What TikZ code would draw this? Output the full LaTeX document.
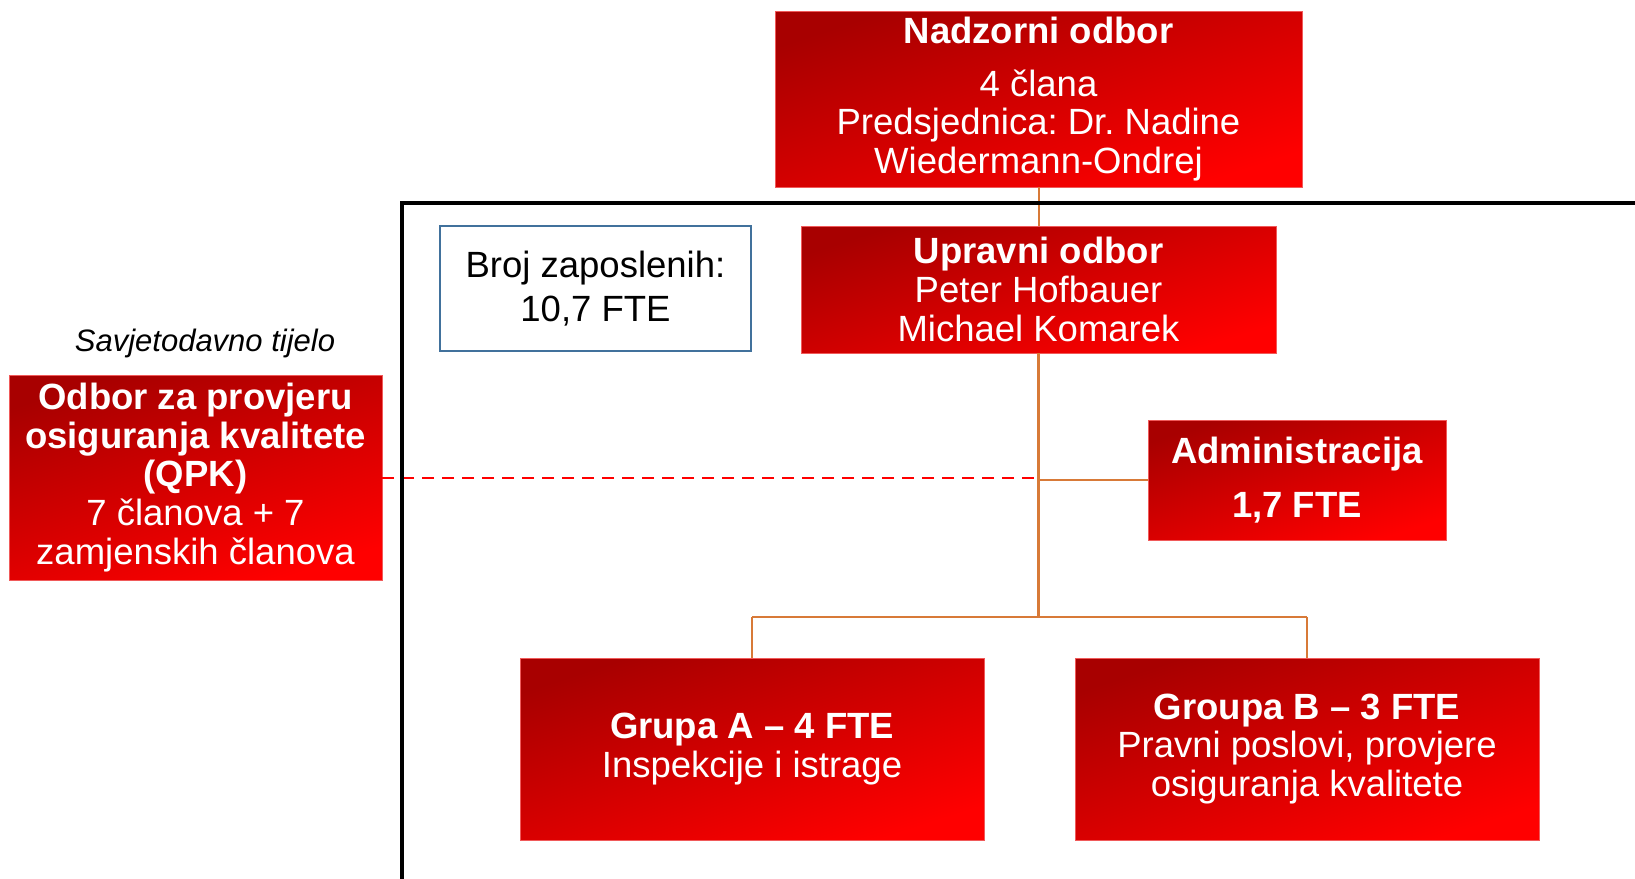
\documentclass[tikz,border=0pt]{standalone}
\usepackage{fontspec}
\setmainfont{Liberation Sans}
\usepackage{tikz}
\frenchspacing

\definecolor{boxdark}{RGB}{168,0,0}
\definecolor{boxmid}{RGB}{222,0,0}
\definecolor{boxlight}{RGB}{255,0,0}
\definecolor{boxedge}{RGB}{240,90,90}
\definecolor{linkorange}{RGB}{216,122,56}
\definecolor{frameblue}{RGB}{65,113,156}

\begin{document}
\begin{tikzpicture}[x=1pt,y=-1pt]
	\tikzset{orgbox/.style={draw=boxedge,line width=0.8pt,top color=boxdark,middle color=boxmid,bottom color=boxlight,shading angle=18,text=white,align=center,inner sep=0pt,font=\fontsize{36.5}{38.6}\selectfont}}
	\tikzset{link/.style={draw=linkorange,line width=2.5pt}}
	\useasboundingbox (0,0) rectangle (1635,878);

	%% Boards
	\node[orgbox,minimum width=527pt,minimum height=176pt] (nad) at (1038.5,99) {\textbf{Nadzorni odbor}\\[14pt]4 člana\\Predsjednica: Dr. Nadine\\Wiedermann-Ondrej};
	\node[orgbox,minimum width=475pt,minimum height=127pt] (upr) at (1038.5,289.5) {\textbf{Upravni odbor}\\Peter Hofbauer\\Michael Komarek};
	\node[draw=frameblue,line width=1.5pt,minimum width=311pt,minimum height=125pt,align=center,inner sep=0pt,font=\fontsize{36.5}{38.6}\selectfont] (broj) at (595.5,288.5) {Broj zaposlenih:\\[5pt]10,7 FTE};

	%% Advisory body
	\node[font=\fontsize{31}{34}\selectfont\itshape] (savjet) at (205,343) {Savjetodavno tijelo};
	\node[orgbox,minimum width=373pt,minimum height=205pt] (qpk) at (195.5,477.5) {\textbf{Odbor za provjeru}\\\textbf{osiguranja kvalitete}\\\textbf{(QPK)}\\7 članova + 7\\zamjenskih članova};

	%% Units
	\node[orgbox,minimum width=298pt,minimum height=120pt] (adm) at (1297,480) {\textbf{Administracija}\\[15pt]\textbf{1,7 FTE}};
	\node[orgbox,minimum width=464pt,minimum height=182pt] (grpA) at (752,749) {\textbf{Grupa A – 4 FTE}\\Inspekcije i istrage};
	\node[orgbox,minimum width=464pt,minimum height=182pt] (grpB) at (1307,749) {\textbf{Groupa B – 3 FTE}\\Pravni poslovi, provjere\\osiguranja kvalitete};

	\coordinate (bus) at (1038.5,617);

	%% Connectors
	\draw[link,line width=2pt] (nad) -- (upr);
	\draw[link,line width=3pt] (upr) -- (bus);
	\draw[link] (grpA.north |- bus) -- (grpB.north |- bus);
	\draw[link,line width=2pt] (grpA.north |- bus) -- (grpA.north);
	\draw[link,line width=2pt] (grpB.north |- bus) -- (grpB.north);
	\draw[link,line width=1.2pt] (upr.south |- adm.west) -- (adm.west);
	\draw[red,line width=2pt,dash pattern=on 12pt off 8pt] (qpk.east) -- (upr.south |- qpk.east);

	%% Frame
	\draw[line width=4pt] (402,880) -- (402,203) -- (1640,203);
\end{tikzpicture}
\end{document}
